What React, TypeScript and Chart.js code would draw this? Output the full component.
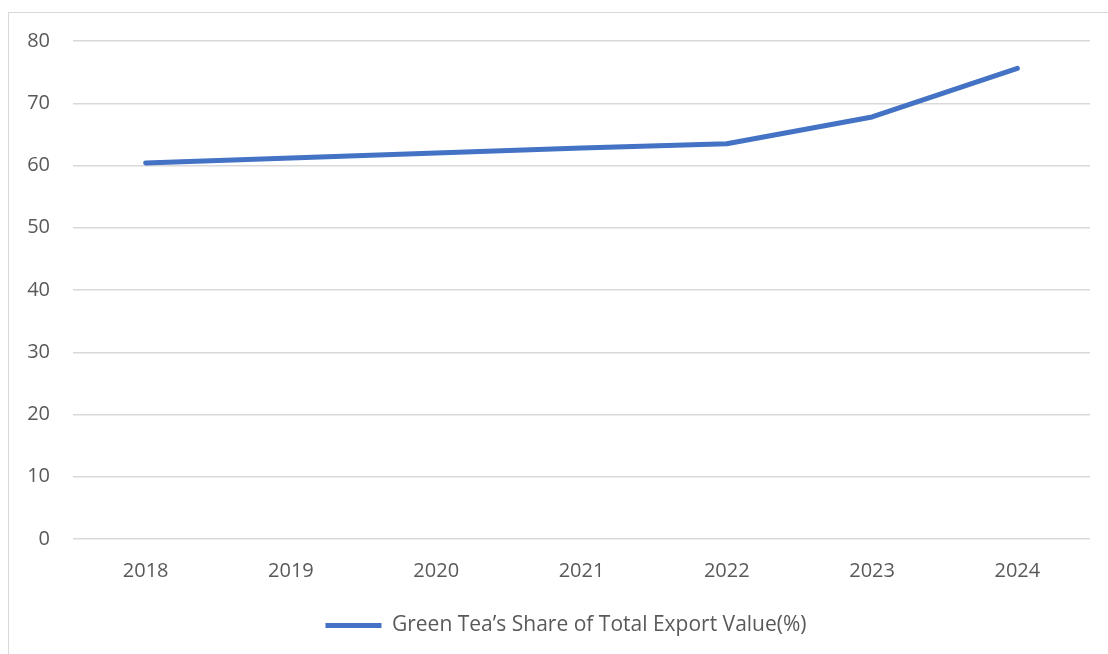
import React, { useEffect, useRef } from "react";
import { Chart, registerables } from "chart.js";

Chart.register(...registerables);

const years = ["2018", "2019", "2020", "2021", "2022", "2023", "2024"];
const greenTeaShare = [60.4, 61.2, 62.0, 62.8, 63.5, 67.8, 75.6];
const seriesLabel = "Green Tea\u2019s Share of Total Export Value(%)";
const yTicks = [0, 10, 20, 30, 40, 50, 60, 70, 80];

const FONT = "'Open Sans', 'Noto Sans', sans-serif";
const TEXT = "#595959";
const GRID = "#d9d9d9";
const BLUE = "#4472c4";

const shiftLegend = {
  id: "shiftLegend",
  afterLayout(chart: any) {
    const lg = chart.legend;
    if (lg) {
      lg.left += 21;
      lg.right += 21;
    }
  },
};

export default function App() {
  const ref = useRef<HTMLCanvasElement | null>(null);

  useEffect(() => {
    if (!ref.current) return;
    const chart = new Chart(ref.current, {
      type: "line",
      data: {
        labels: years,
        datasets: [
          {
            label: seriesLabel,
            data: greenTeaShare,
            borderColor: BLUE,
            backgroundColor: BLUE,
            borderWidth: 5,
            borderCapStyle: "round",
            borderJoinStyle: "round",
            pointRadius: 0,
            pointHoverRadius: 0,
            pointStyle: "line",
            tension: 0,
            fill: false,
          },
        ],
      },
      options: {
        responsive: false,
        animation: false,
        events: [],
        layout: { padding: { top: 41, left: 0, right: 18, bottom: 8 } },
        scales: {
          x: {
            offset: true,
            grid: { display: false, drawTicks: false },
            border: { display: false },
            ticks: { color: TEXT, font: { family: FONT, size: 20 }, padding: 20 },
            afterFit: (s: any) => {
              s.height = 66;
            },
          },
          y: {
            min: 0,
            max: 80,
            afterBuildTicks: (s: any) => {
              s.ticks = yTicks.map((v) => ({ value: v }));
            },
            grid: { color: GRID, lineWidth: 1.4, drawTicks: false },
            border: { display: false },
            ticks: { color: TEXT, font: { family: FONT, size: 20 }, padding: 23 },
            afterFit: (s: any) => {
              s.width = 73;
            },
          },
        },
        plugins: {
          tooltip: { enabled: false },
          legend: {
            position: "bottom",
            labels: {
              color: TEXT,
              font: { family: FONT, size: 21 },
              usePointStyle: true,
              pointStyleWidth: 56,
              padding: 10,
            },
          },
        },
      },
      plugins: [shiftLegend],
    });
    return () => chart.destroy();
  }, []);

  return (
    <div style={{ position: "fixed", left: 0, top: 0, width: 1108, height: 654, background: "#fff", overflow: "hidden" }}>
      <div
        style={{
          position: "absolute",
          left: 8,
          top: 12,
          width: 1200,
          height: 700,
          border: "1px solid #d9d9d9",
          boxSizing: "border-box",
        }}
      />
      <canvas ref={ref} width={1108} height={654} style={{ position: "absolute", left: 0, top: 0, display: "block" }} />
    </div>
  );
}
